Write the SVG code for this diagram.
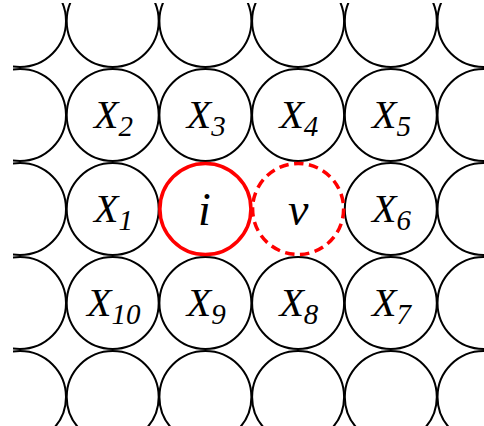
<svg xmlns="http://www.w3.org/2000/svg" width="484" height="426" viewBox="0 0 484 426">
<style>
.c{fill:none;stroke:#000;stroke-width:2}
.red{fill:none;stroke:#f00;stroke-width:3.5}
.dash{stroke-dasharray:9.5 5.5}
</style>
<defs>
<clipPath id="clip"><rect x="13" y="3" width="480" height="430"/></clipPath>
<circle id="cc" r="46" class="c"/>
</defs>
<rect width="484" height="426" fill="#fff"/>
<g id="lattice" clip-path="url(#clip)">
<use href="#cc" x="20" y="21"/><use href="#cc" x="112.7" y="21"/><use href="#cc" x="205.4" y="21"/><use href="#cc" x="298.1" y="21"/><use href="#cc" x="390.8" y="21"/><use href="#cc" x="483.5" y="21"/>
<use href="#cc" x="20" y="115"/><use href="#cc" x="483.5" y="115"/>
<use href="#cc" x="20" y="209"/><use href="#cc" x="483.5" y="209"/>
<use href="#cc" x="20" y="303"/><use href="#cc" x="483.5" y="303"/>
<use href="#cc" x="20" y="397"/><use href="#cc" x="112.7" y="397"/><use href="#cc" x="205.4" y="397"/><use href="#cc" x="298.1" y="397"/><use href="#cc" x="390.8" y="397"/><use href="#cc" x="483.5" y="397"/>
</g>
<g id="X2"><use href="#cc" x="112.7" y="115"/><text x="94" y="128.3" font-family="Liberation Serif" font-style="italic" font-size="40">X<tspan font-size="29" dy="8">2</tspan></text></g>
<g id="X3"><use href="#cc" x="205.4" y="115"/><text x="186.7" y="128.3" font-family="Liberation Serif" font-style="italic" font-size="40">X<tspan font-size="29" dy="8">3</tspan></text></g>
<g id="X4"><use href="#cc" x="298.1" y="115"/><text x="279.4" y="128.3" font-family="Liberation Serif" font-style="italic" font-size="40">X<tspan font-size="29" dy="8">4</tspan></text></g>
<g id="X5"><use href="#cc" x="390.8" y="115"/><text x="372.1" y="128.3" font-family="Liberation Serif" font-style="italic" font-size="40">X<tspan font-size="29" dy="8">5</tspan></text></g>
<g id="X1"><use href="#cc" x="112.7" y="209"/><text x="94" y="222.3" font-family="Liberation Serif" font-style="italic" font-size="40">X<tspan font-size="29" dy="8">1</tspan></text></g>
<g id="X6"><use href="#cc" x="390.8" y="209"/><text x="372.1" y="222.3" font-family="Liberation Serif" font-style="italic" font-size="40">X<tspan font-size="29" dy="8">6</tspan></text></g>
<g id="X10"><use href="#cc" x="112.7" y="303"/><text x="87" y="316.3" font-family="Liberation Serif" font-style="italic" font-size="40">X<tspan font-size="29" dy="8">10</tspan></text></g>
<g id="X9"><use href="#cc" x="205.4" y="303"/><text x="186.7" y="316.3" font-family="Liberation Serif" font-style="italic" font-size="40">X<tspan font-size="29" dy="8">9</tspan></text></g>
<g id="X8"><use href="#cc" x="298.1" y="303"/><text x="279.4" y="316.3" font-family="Liberation Serif" font-style="italic" font-size="40">X<tspan font-size="29" dy="8">8</tspan></text></g>
<g id="X7"><use href="#cc" x="390.8" y="303"/><text x="372.1" y="316.3" font-family="Liberation Serif" font-style="italic" font-size="40">X<tspan font-size="29" dy="8">7</tspan></text></g>
<g id="v"><circle cx="298.1" cy="209" r="45.5" class="red dash"/><text x="288" y="225" font-family="Liberation Serif" font-style="italic" font-size="46">v</text></g>
<g id="i"><circle cx="205.4" cy="209" r="45.5" class="red"/><text x="198" y="225" font-family="Liberation Serif" font-style="italic" font-size="46">i</text></g>
</svg>
